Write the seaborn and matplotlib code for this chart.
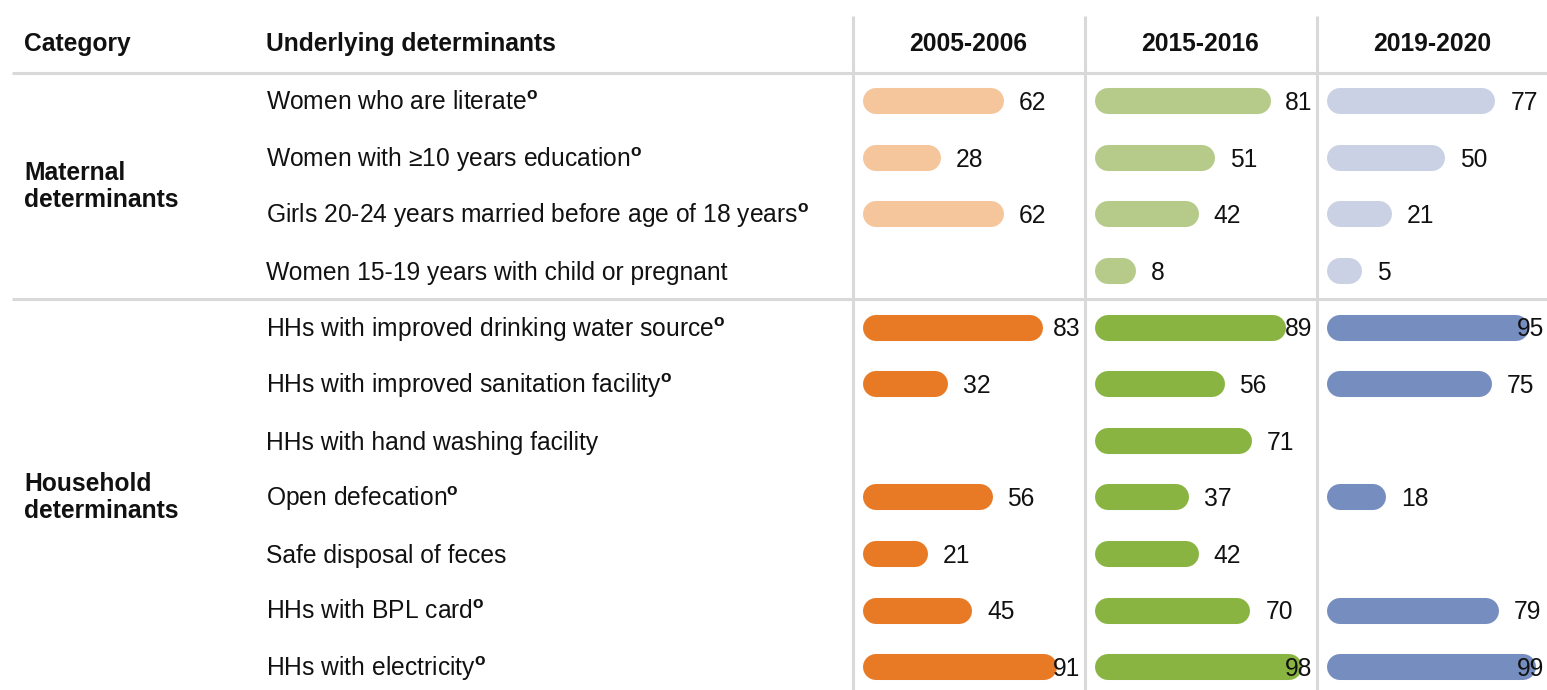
import numpy as np
import pandas as pd
import matplotlib
matplotlib.use("Agg")
import matplotlib.pyplot as plt
import seaborn as sns

periods = ["2005-2006", "2015-2016", "2019-2020"]
determinants = [
    "Women who are literate",
    "Women with \u226510 years education",
    "Girls 20-24 years married before age of 18 years",
    "Women 15-19 years with child or pregnant",
    "HHs with improved drinking water source",
    "HHs with improved sanitation facility",
    "HHs with hand washing facility",
    "Open defecation",
    "Safe disposal of feces",
    "HHs with BPL card",
    "HHs with electricity",
]
marked = [True, True, True, False, True, True, False, True, False, True, True]
group = ["Maternal\ndeterminants"] * 4 + ["Household\ndeterminants"] * 7
vals_2005 = [62, 28, 62, np.nan, 83, 32, np.nan, 56, 21, 45, 91]
vals_2015 = [81, 51, 42, 8, 89, 56, 71, 37, 42, 70, 98]
vals_2019 = [77, 50, 21, 5, 95, 75, np.nan, 18, np.nan, 79, 99]

light_colors = ["#F5C59B", "#B6CB89", "#CBD1E4"]
dark_colors = ["#E87A25", "#8AB441", "#768DBF"]

df = pd.DataFrame({
    "row": list(range(len(determinants))) * 3,
    "group": group * 3,
    "period": np.repeat(periods, len(determinants)),
    "value": vals_2005 + vals_2015 + vals_2019,
})

sns.set_theme(style="white")
plt.rcParams["font.family"] = ["Liberation Sans", "DejaVu Sans"]
plt.rcParams["mathtext.fontset"] = "custom"
plt.rcParams["mathtext.bf"] = "Liberation Sans:bold"
plt.rcParams["mathtext.rm"] = "Liberation Sans"

W, H = 1547, 690
fig = plt.figure(figsize=(W / 100, H / 100), dpi=100)
fs = 17.7
txt = "#111111"
grid = "#d9d9d9"

# row geometry (pixels)
row0, row_step = 101.3, 56.6
top_px = row0 - row_step / 2
ylim = ((H - row0) / row_step, -0.5)
ax_height = (H - top_px) / H

# left table part
col_x = [853, 1085, 1317, 1549]
axL = fig.add_axes([0, 0, col_x[0] / W, ax_height])
axL.set_xlim(0, col_x[0])
axL.set_ylim(*ylim)
axL.axis("off")
for i, lab in enumerate(determinants):
    s = lab + (r"$^{\mathbf{o}}$" if marked[i] else "")
    axL.text(266, i + 0.03, s, fontsize=fs, color=txt, va="center", ha="left")
for g in dict.fromkeys(group):
    rows = df[(df["group"] == g) & (df["period"] == periods[0])]["row"]
    axL.text(24, rows.mean(), g, fontsize=fs, fontweight="bold", color=txt,
             va="center", ha="left", linespacing=1.15)

# bar columns
px_per_unit = 1.85
zero_off = 36
bar_start = -14
bar_h = 0.46
for k, p in enumerate(periods):
    left, right = col_x[k], col_x[k + 1] - 2
    ax = fig.add_axes([left / W, 0, (right - left) / W, ax_height])
    xlim = (-zero_off / px_per_unit, (right - left - zero_off) / px_per_unit)
    sub = df[df["period"] == p].copy()
    sub["shade"] = np.where(sub["group"] == group[0], "light", "dark")
    sns.barplot(data=sub, x="value", y="row", hue="shade", orient="h",
                palette={"light": light_colors[k], "dark": dark_colors[k]},
                saturation=1, width=bar_h, legend=False, ax=ax, native_scale=True)
    ax.set_xlim(*xlim)
    ax.set_ylim(*ylim)
    ax.axis("off")

    # turn seaborn's rectangles into pill shapes (round-capped strokes)
    fig.canvas.draw()
    bb = ax.get_window_extent()
    ppx = bb.width / (xlim[1] - xlim[0])
    ppy = bb.height / (ylim[0] - ylim[1])
    half_px = bar_h * ppy / 2
    r_x = half_px / ppx
    lw = bar_h * ppy * 72 / fig.dpi
    for patch in list(ax.patches):
        w = patch.get_width()
        yc = patch.get_y() + patch.get_height() / 2
        fc = patch.get_facecolor()
        patch.remove()
        if not np.isfinite(w) or w <= 0:
            continue
        ax.plot([bar_start + r_x, w - r_x], [yc, yc], color=fc, lw=lw,
                solid_capstyle="round")
    label_max = xlim[1] - 30 / px_per_unit
    for _, r in sub.dropna(subset=["value"]).iterrows():
        ax.text(min(r["value"] + 8, label_max), r["row"] + 0.03, f"{r['value']:.0f}",
                fontsize=fs, color=txt, va="center", ha="left", zorder=5)

# overlay: headers and rules
axO = fig.add_axes([0, 0, 1, 1], zorder=-1)
axO.set_xlim(0, W)
axO.set_ylim(H, 0)
axO.axis("off")
axO.text(24, 44, "Category", fontsize=fs, fontweight="bold", color=txt, va="center")
axO.text(266, 44, "Underlying determinants", fontsize=fs, fontweight="bold",
         color=txt, va="center")
for k, p in enumerate(periods):
    axO.text((col_x[k] + col_x[k + 1] - 2) / 2, 44, p, fontsize=fs,
             fontweight="bold", color=txt, va="center", ha="center")
sep = top_px + 4 * row_step
axO.hlines([top_px, sep], 12, W, color=grid, lw=2.2)
axO.vlines(col_x[:3], 16, H, color=grid, lw=2.2)

fig.savefig("out.png", dpi=100)
